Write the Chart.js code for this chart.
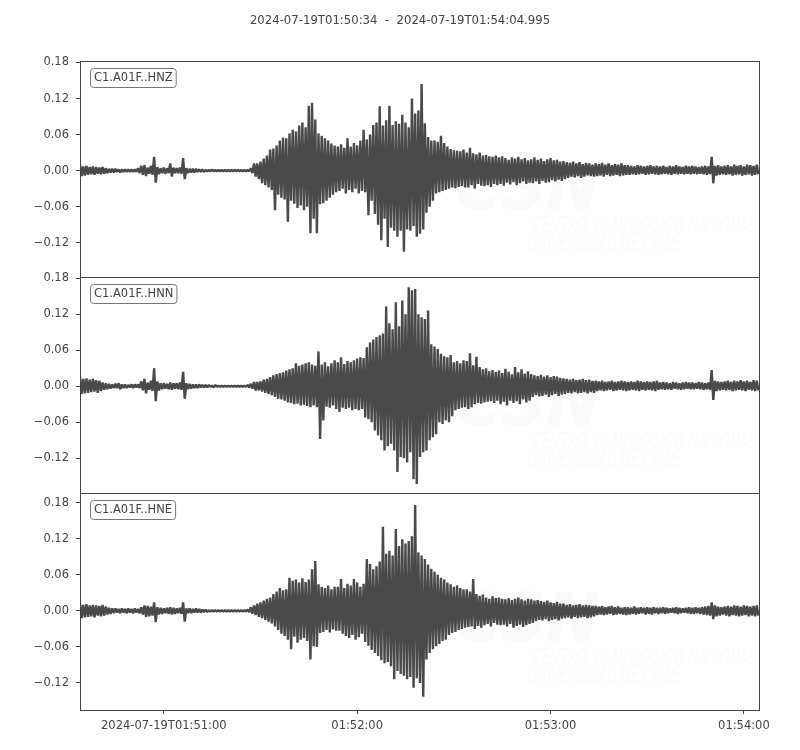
<!DOCTYPE html>
<html>
<head>
<meta charset="utf-8">
<title>C1.A01F seismogram</title>
<script src="https://cdn.jsdelivr.net/npm/chart.js@4.4.1/dist/chart.umd.min.js"></script>
<style>
  html, body { margin: 0; padding: 0; background: #fff; }
  #wrap { position: relative; width: 800px; height: 750px; }
  #wrap canvas { position: absolute; left: 0; top: 0; }
</style>
</head>
<body>
<div id="wrap">
  <canvas id="chartHNZ" width="800" height="750"></canvas>
  <canvas id="chartHNN" width="800" height="750"></canvas>
  <canvas id="chartHNE" width="800" height="750"></canvas>
</div>
<script>
// peak values per 1 s window (upper, lower), in units of 0.001, window 0 starts 01:50:34
const hnzUpper = [
	10, 7, 8, 6, 7, 6, 5, 6, 4, 3,
	3, 3, 2, 2, 2, 2, 2, 2, 4, 8,
	9, 5, 8, 23, 6, 4, 5, 4, 12, 5,
	4, 5, 21, 4, 3, 3, 3, 2, 2, 1,
	1, 2, 1, 1, 1, 1, 1, 1, 1, 1,
	1, 1, 1, 4, 12, 12, 15, 20, 25, 35,
	37, 42, 50, 55, 54, 62, 68, 65, 75, 80,
	72, 108, 113, 85, 62, 58, 54, 50, 45, 42,
	40, 44, 38, 54, 40, 46, 42, 50, 68, 52,
	60, 76, 80, 107, 75, 84, 108, 76, 82, 78,
	93, 80, 72, 120, 95, 100, 144, 79, 56, 50,
	50, 48, 58, 46, 40, 36, 34, 33, 32, 35,
	30, 38, 29, 27, 30, 25, 26, 24, 23, 25,
	22, 24, 21, 18, 22, 20, 23, 19, 21, 17,
	19, 22, 18, 20, 16, 19, 21, 17, 18, 15,
	16, 14, 13, 15, 12, 14, 11, 13, 12, 10,
	12, 11, 13, 10, 12, 9, 11, 10, 12, 9,
	9, 8, 7, 9, 8, 7, 8, 9, 7, 8,
	7, 8, 6, 8, 7, 9, 7, 6, 8, 7,
	8, 7, 6, 7, 8, 7, 23, 8, 9, 7,
	8, 9, 7, 10, 8, 9, 7, 10, 9, 8, 10,
];
const hnzLower = [
	-9, -8, -7, -6, -7, -5, -6, -5, -4, -3,
	-3, -2, -3, -2, -2, -2, -2, -2, -4, -7,
	-9, -5, -7, -20, -6, -4, -5, -4, -10, -4,
	-4, -5, -14, -4, -3, -3, -2, -2, -2, -1,
	-1, -1, -1, -1, -1, -1, -1, -1, -1, -1,
	-1, -1, -1, -4, -10, -14, -21, -24, -28, -32,
	-66, -40, -45, -48, -85, -50, -55, -62, -58, -66,
	-60, -104, -80, -104, -56, -54, -50, -45, -40, -36,
	-34, -30, -38, -32, -36, -30, -38, -34, -36, -74,
	-50, -72, -90, -116, -80, -127, -95, -100, -110, -100,
	-135, -98, -100, -92, -110, -105, -98, -70, -60, -50,
	-38, -36, -34, -32, -30, -28, -29, -27, -26, -28,
	-28, -24, -30, -22, -25, -26, -24, -27, -22, -24,
	-22, -25, -20, -23, -19, -24, -21, -18, -22, -20,
	-21, -18, -22, -17, -20, -19, -16, -18, -15, -17,
	-14, -12, -10, -11, -9, -12, -10, -8, -9, -10,
	-9, -8, -10, -7, -9, -8, -7, -9, -8, -7,
	-7, -6, -7, -6, -5, -7, -6, -5, -6, -7,
	-6, -5, -6, -7, -5, -6, -5, -6, -5, -6,
	-5, -6, -5, -6, -7, -6, -21, -8, -7, -6,
	-7, -6, -8, -7, -6, -8, -7, -6, -8, -7, -6,
];
const hnnUpper = [
	15, 12, 13, 11, 12, 10, 9, 6, 5, 4,
	3, 4, 5, 3, 3, 2, 3, 3, 3, 8,
	12, 6, 9, 30, 8, 5, 5, 4, 6, 5,
	5, 6, 24, 5, 4, 3, 3, 3, 2, 2,
	2, 1, 2, 1, 1, 1, 1, 1, 1, 1,
	1, 1, 2, 4, 7, 7, 8, 11, 12, 15,
	18, 20, 22, 23, 26, 28, 30, 38, 34, 36,
	38, 40, 36, 34, 58, 36, 40, 33, 38, 43,
	40, 48, 37, 42, 40, 43, 46, 48, 47, 65,
	73, 78, 82, 85, 88, 133, 105, 95, 140, 100,
	143, 120, 165, 160, 162, 120, 115, 112, 126, 70,
	66, 62, 54, 50, 48, 52, 40, 42, 38, 43,
	42, 55, 35, 49, 32, 28, 30, 25, 27, 24,
	26, 22, 29, 24, 20, 32, 23, 28, 21, 25,
	20, 18, 17, 19, 16, 18, 15, 17, 16, 14,
	13, 12, 11, 12, 10, 11, 12, 10, 11, 9,
	9, 8, 9, 7, 8, 9, 7, 8, 9, 8,
	7, 8, 7, 9, 8, 7, 8, 7, 8, 9,
	6, 7, 6, 5, 7, 6, 5, 6, 7, 6,
	6, 5, 7, 6, 5, 6, 27, 9, 8, 7,
	8, 9, 7, 9, 8, 10, 8, 9, 7, 10, 9,
];
const hnnLower = [
	-13, -12, -11, -10, -9, -11, -8, -6, -5, -4,
	-3, -3, -5, -3, -3, -2, -3, -2, -3, -7,
	-12, -6, -8, -25, -7, -5, -4, -5, -6, -4,
	-5, -6, -21, -5, -4, -3, -3, -2, -2, -2,
	-1, -2, -1, -1, -1, -1, -1, -1, -1, -1,
	-1, -1, -2, -4, -7, -7, -9, -11, -13, -15,
	-18, -21, -22, -24, -27, -28, -30, -29, -32, -31,
	-33, -35, -32, -35, -88, -57, -34, -36, -32, -38,
	-43, -36, -38, -36, -40, -38, -40, -38, -52, -55,
	-60, -74, -82, -90, -107, -100, -96, -107, -143, -118,
	-120, -127, -110, -155, -163, -118, -110, -107, -90, -85,
	-80, -60, -63, -57, -60, -50, -40, -38, -36, -35,
	-38, -35, -30, -28, -29, -27, -26, -25, -28, -24,
	-30, -26, -32, -24, -28, -25, -30, -22, -27, -24,
	-18, -15, -17, -16, -14, -18, -15, -13, -16, -14,
	-13, -11, -12, -10, -12, -11, -10, -12, -10, -11,
	-8, -7, -8, -7, -6, -8, -7, -6, -7, -8,
	-7, -6, -7, -8, -6, -7, -6, -7, -8, -6,
	-5, -6, -5, -6, -4, -5, -6, -5, -4, -5,
	-5, -4, -5, -6, -5, -6, -23, -8, -7, -6,
	-7, -6, -8, -7, -6, -7, -8, -6, -7, -8, -7,
];
const hneUpper = [
	12, 10, 11, 9, 10, 9, 8, 10, 7, 5,
	4, 4, 3, 4, 3, 4, 3, 4, 3, 6,
	9, 8, 7, 14, 6, 5, 4, 5, 6, 5,
	4, 5, 14, 4, 4, 3, 4, 3, 2, 2,
	1, 1, 1, 1, 1, 1, 1, 1, 1, 1,
	1, 1, 2, 6, 9, 12, 14, 17, 20, 22,
	28, 32, 38, 34, 36, 55, 50, 52, 47, 54,
	48, 52, 69, 83, 44, 40, 38, 42, 36, 40,
	40, 53, 38, 45, 42, 53, 47, 40, 45, 86,
	78, 69, 74, 82, 140, 95, 100, 92, 136, 108,
	119, 112, 116, 124, 176, 97, 92, 86, 77, 70,
	65, 60, 55, 52, 47, 44, 40, 42, 38, 36,
	36, 32, 53, 28, 25, 27, 22, 20, 24, 21,
	22, 20, 19, 21, 18, 20, 22, 19, 17, 20,
	19, 17, 18, 16, 15, 17, 14, 13, 15, 12,
	12, 10, 11, 9, 10, 11, 9, 10, 9, 8,
	8, 7, 8, 6, 7, 8, 6, 7, 5, 6,
	6, 5, 7, 5, 6, 5, 6, 5, 6, 5,
	5, 6, 5, 4, 5, 6, 5, 4, 5, 6,
	5, 6, 5, 6, 7, 8, 14, 9, 7, 6,
	7, 8, 7, 9, 8, 7, 9, 8, 7, 8, 9,
];
const hneLower = [
	-12, -11, -10, -9, -11, -8, -9, -8, -6, -5,
	-4, -3, -4, -3, -4, -3, -4, -3, -4, -6,
	-10, -9, -8, -19, -6, -5, -4, -5, -6, -5,
	-4, -5, -18, -4, -4, -3, -3, -3, -2, -2,
	-1, -1, -1, -1, -1, -1, -1, -1, -1, -1,
	-1, -1, -2, -5, -7, -10, -12, -15, -18, -21,
	-26, -32, -38, -42, -48, -64, -43, -53, -48, -45,
	-50, -81, -59, -60, -37, -35, -32, -36, -31, -33,
	-33, -38, -42, -45, -40, -48, -44, -38, -52, -58,
	-65, -70, -75, -82, -87, -85, -92, -114, -100, -105,
	-108, -114, -110, -128, -112, -120, -143, -81, -70, -64,
	-59, -55, -50, -48, -40, -37, -35, -32, -30, -28,
	-27, -26, -30, -25, -28, -24, -22, -26, -20, -23,
	-24, -23, -26, -22, -28, -25, -23, -27, -24, -22,
	-20, -17, -15, -16, -14, -17, -15, -14, -16, -13,
	-12, -11, -13, -10, -12, -11, -10, -12, -11, -9,
	-7, -6, -7, -6, -5, -7, -6, -5, -6, -7,
	-6, -5, -6, -5, -4, -6, -5, -6, -4, -5,
	-4, -5, -4, -3, -4, -5, -4, -3, -4, -5,
	-5, -4, -5, -6, -7, -8, -14, -9, -8, -6,
	-8, -9, -7, -8, -9, -8, -7, -9, -8, -9, -8,
];

const channelLabels = ['C1.A01F..HNZ', 'C1.A01F..HNN', 'C1.A01F..HNE'];
const titleText = '2024-07-19T01:50:34  -  2024-07-19T01:54:04.995';
const recordSeconds = 210.995;

const yTickValues = [-120, -60, 0, 60, 120, 180];
const yTickLabels = ['\u22120.12', '\u22120.06', '0.00', '0.06', '0.12', '0.18'];
const xTickSeconds = [26, 86, 146, 206];
const xTickLabels = ['2024-07-19T01:51:00', '01:52:00', '01:53:00', '01:54:00'];

const watermarkLines = ['CSN', 'CENTRO SISMOLÓGICO NACIONAL', 'UNIVERSIDAD DE CHILE'];

Chart.defaults.font.family = '"DejaVu Sans", sans-serif';
Chart.defaults.font.size = 11.5;
Chart.defaults.color = '#444444';

// one max point and one min point per window, like obspy's min/max plot
function tracePoints(upper, lower) {
	const pts = [];
	for (let i = 0; i < upper.length; i++) {
		pts.push({ x: i, y: upper[i] });
		pts.push({ x: i + 0.5, y: lower[i] });
	}
	return pts;
}

const panelPlugin = {
	id: 'panel',
	beforeDatasetsDraw(chart, args, opts) {
		const { ctx, chartArea: a } = chart;
		ctx.save();
		ctx.fillStyle = 'rgba(0,0,0,0.018)';
		ctx.textBaseline = 'alphabetic';
		ctx.font = 'italic bold 68px "DejaVu Sans", sans-serif';
		ctx.fillText(watermarkLines[0], a.left + 375, a.top + 148, 145);
		ctx.font = 'italic 23px "Liberation Sans Narrow", "DejaVu Sans Condensed", sans-serif';
		ctx.fillText(watermarkLines[1], a.left + 453, a.top + 172, 223);
		ctx.fillText(watermarkLines[2], a.left + 448, a.top + 190, 152);
		ctx.restore();
	},
	afterDraw(chart, args, opts) {
		const { ctx, chartArea: a } = chart;
		ctx.save();
		if (opts.title) {
			ctx.font = '11.7px "DejaVu Sans", sans-serif';
			ctx.fillStyle = '#444444';
			ctx.textAlign = 'center';
			ctx.textBaseline = 'middle';
			ctx.fillText(opts.title, chart.width / 2, 20.5);
			ctx.textAlign = 'left';
		}
		const top = Math.round(a.top);
		const bottom = Math.round(a.bottom);
		ctx.strokeStyle = '#444444';
		ctx.lineWidth = 1;
		ctx.strokeRect(Math.round(a.left) + 0.5, top + 0.5,
			Math.round(a.right - a.left) - 1, bottom - top);
		ctx.font = '11.5px "DejaVu Sans", sans-serif';
		const w = ctx.measureText(opts.label).width;
		ctx.beginPath();
		ctx.roundRect(a.left + 10.5, top + 7.5, w + 7, 19, 3);
		ctx.fillStyle = '#ffffff';
		ctx.fill();
		ctx.strokeStyle = '#777777';
		ctx.stroke();
		ctx.fillStyle = '#444444';
		ctx.textBaseline = 'middle';
		ctx.fillText(opts.label, a.left + 14, a.top + 17.5);
		ctx.restore();
	},
};

const panels = [
	{ id: 'chartHNZ', label: channelLabels[0], upper: hnzUpper, lower: hnzLower, yMin: -177, yMax: 183, top: 60.7, bottom: 473, title: titleText, xAxis: false },
	{ id: 'chartHNN', label: channelLabels[1], upper: hnnUpper, lower: hnnLower, yMin: -178, yMax: 182, top: 277, bottom: 257, title: null, xAxis: false },
	{ id: 'chartHNE', label: channelLabels[2], upper: hneUpper, lower: hneLower, yMin: -165, yMax: 196, top: 493, bottom: 15, title: null, xAxis: true },
];

panels.forEach((p) => {
	new Chart(document.getElementById(p.id), {
		type: 'line',
		data: {
			datasets: [
				{
					label: p.label,
					data: tracePoints(p.upper, p.lower),
					borderColor: '#4a4a4a',
					borderWidth: 2.4,
					borderJoinStyle: 'bevel',
					pointRadius: 0,
					tension: 0,
					fill: false,
				},
			],
		},
		options: {
			responsive: false,
			animation: false,
			events: [],
			layout: {
				padding: { left: 0, right: 40, top: p.top, bottom: p.bottom },
			},
			plugins: {
				legend: { display: false },
				tooltip: { enabled: false },
				title: { display: false },
				panel: { label: p.label, title: p.title },
			},
			scales: {
				x: {
					type: 'linear',
					min: 0,
					max: recordSeconds,
					display: p.xAxis,
					afterBuildTicks: (s) => {
						s.ticks = xTickSeconds.map((v) => ({ value: v }));
					},
					afterFit: (s) => {
						if (p.xAxis) s.height = 25;
					},
					ticks: {
						autoSkip: false,
						maxRotation: 0,
						padding: 5,
						callback: (v) => xTickLabels[xTickSeconds.indexOf(v)],
					},
					grid: { drawOnChartArea: false, tickLength: 4, color: '#444444' },
					border: { display: false },
				},
				y: {
					type: 'linear',
					min: p.yMin,
					max: p.yMax,
					afterBuildTicks: (s) => {
						s.ticks = yTickValues.map((v) => ({ value: v }));
					},
					afterFit: (s) => {
						s.width = 80;
					},
					ticks: {
						autoSkip: false,
						padding: 7,
						callback: (v) => yTickLabels[yTickValues.indexOf(v)],
					},
					grid: { drawOnChartArea: false, tickLength: 4, color: '#444444' },
					border: { display: false },
				},
			},
		},
		plugins: [panelPlugin],
	});
});
</script>
</body>
</html>
